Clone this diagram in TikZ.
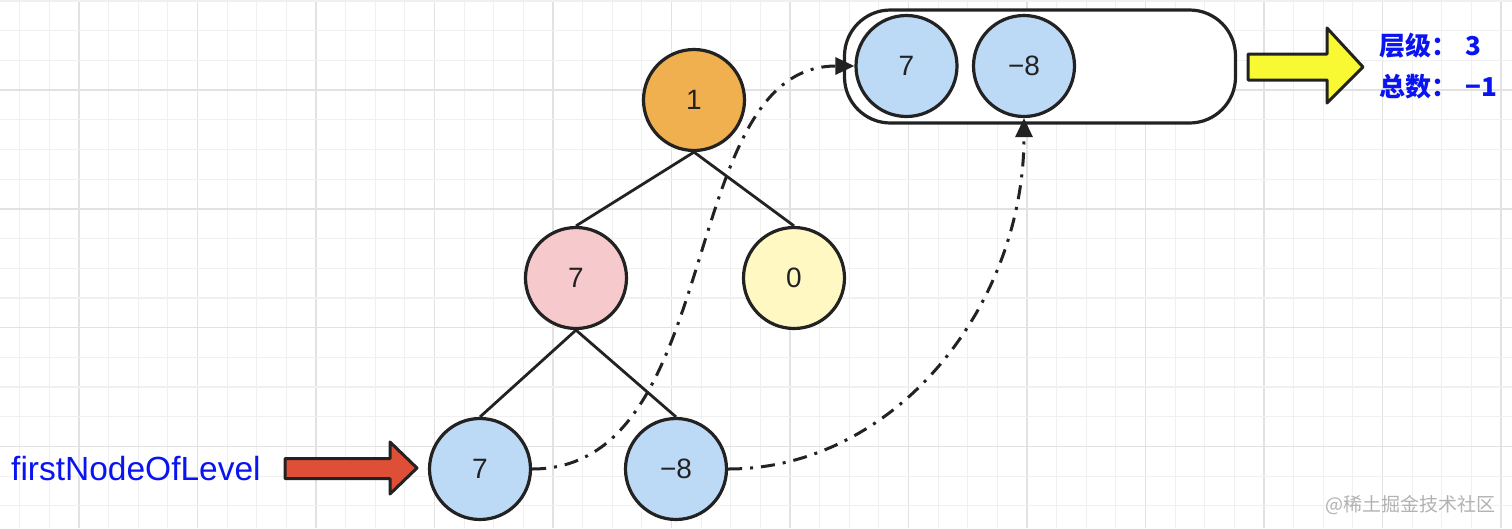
\documentclass[tikz,border=0pt]{standalone}
\usepackage{fontspec}
\setmainfont{Liberation Sans}
\newfontfamily\cjk{Noto Sans CJK SC}
\usetikzlibrary{arrows.meta,calc}
\definecolor{gridminor}{HTML}{F0F0F0}
\definecolor{gridmajor}{HTML}{E2E2E2}
\definecolor{orangefill}{HTML}{F0B050}
\definecolor{pinkfill}{HTML}{F6CACC}
\definecolor{yellowfill}{HTML}{FFF8C2}
\definecolor{bluefill}{HTML}{BCD9F6}
\definecolor{edge}{HTML}{222222}
\definecolor{redarrow}{HTML}{DF4E36}
\definecolor{yelarrow}{HTML}{F8F833}
\definecolor{labelblue}{HTML}{0A14F0}
\tikzset{
  treenode/.style={circle,draw=edge,line width=3.2pt,minimum size=101pt,inner sep=0pt,
    font=\fontsize{28}{30}\selectfont,text=edge},
  treeedge/.style={draw=edge,line width=2.8pt},
  dashdotlink/.style={draw=edge,line width=3pt,dash pattern=on 14pt off 8pt on 3pt off 8pt,
    -{Triangle[length=19pt,width=17pt]}},
  blockarrow/.style={draw=edge,line width=3pt,line join=round},
  bluelabel/.style={text=labelblue,inner sep=0pt}
}
\begin{document}
\begin{tikzpicture}[x=1pt,y=-1pt]
\useasboundingbox (0,0) rectangle (1512,528);
\fill[white] (0,0) rectangle (1512,528);
% grid
\foreach \k in {-2,...,48}{
  \pgfmathsetmacro{\xx}{79+29.625*\k}
  \pgfmathtruncatemacro{\mm}{mod(\k+40,4)}
  \ifnum\mm=0
    \draw[gridmajor,line width=1.6pt] (\xx,0) -- (\xx,528);
  \else
    \draw[gridminor,line width=1.2pt] (\xx,0) -- (\xx,528);
  \fi
}
\foreach \k in {-3,...,15}{
  \pgfmathsetmacro{\yy}{90+29.7*\k}
  \pgfmathtruncatemacro{\mm}{mod(\k+40,4)}
  \ifnum\mm=0
    \draw[gridmajor,line width=1.6pt] (0,\yy) -- (1512,\yy);
  \else
    \draw[gridminor,line width=1.2pt] (0,\yy) -- (1512,\yy);
  \fi
}
% tree
\node[treenode,fill=orangefill] (root) at (694,100) {1};
\node[treenode,fill=pinkfill] (a) at (576,278) {7};
\node[treenode,fill=yellowfill] (b) at (794,278) {0};
\node[treenode,fill=bluefill] (c) at (480,469) {7};
\node[treenode,fill=bluefill] (d) at (676,469) {−8};
\draw[treeedge] (root.south) -- (a.north);
\draw[treeedge] (root.south) -- (b.north);
\draw[treeedge] (a.south) -- (c.north);
\draw[treeedge] (a.south) -- (d.north);
% queue box
\node[draw=edge,line width=3.2pt,rounded corners=46pt,minimum width=391pt,minimum height=113pt,
  inner sep=0pt,fill=white] (box) at (1040,66.5) {};
\node[treenode,fill=bluefill] (e) at (906.5,66) {7};
\node[treenode,fill=bluefill] (f) at (1024,66) {−8};
% dash-dot links
\draw[dashdotlink] (c.east) to[out=0,in=180,out distance=195pt,in distance=180pt] (e.west);
\draw[dashdotlink] (d.east) to[out=0,in=-90,out distance=165pt,in distance=190pt] (f.south);
% red block arrow
\coordinate (redtip) at (417,468);
\draw[blockarrow,fill=redarrow] (285,458.5) -- (390,458.5) -- (390,442) -- (redtip) -- (390,494) -- (390,478.5) -- (285,478.5) -- cycle;
\node[bluelabel,anchor=west,font=\fontsize{33.5}{35}\selectfont] (first) at (11,469) {firstNodeOfLevel};
% yellow block arrow
\coordinate (yeltip) at (1363,67);
\draw[blockarrow,fill=yelarrow] (1248,54) -- (1327,54) -- (1327,28) -- (yeltip) -- (1327,103) -- (1327,80) -- (1248,80) -- cycle;
\node[bluelabel,anchor=west,font=\cjk\bfseries\fontsize{26}{28}\selectfont] (lvl) at (1379,46) {层级：\hspace{8pt}3};
\node[bluelabel,anchor=west,font=\cjk\bfseries\fontsize{26}{28}\selectfont] (tot) at (1379,87) {总数：\hspace{8pt}−1};
% watermark
\node[anchor=east,inner sep=0pt,text=black!30,font=\cjk\fontsize{19}{20}\selectfont] (wm) at (1496,505) {@稀土掘金技术社区};
\end{tikzpicture}
\end{document}
